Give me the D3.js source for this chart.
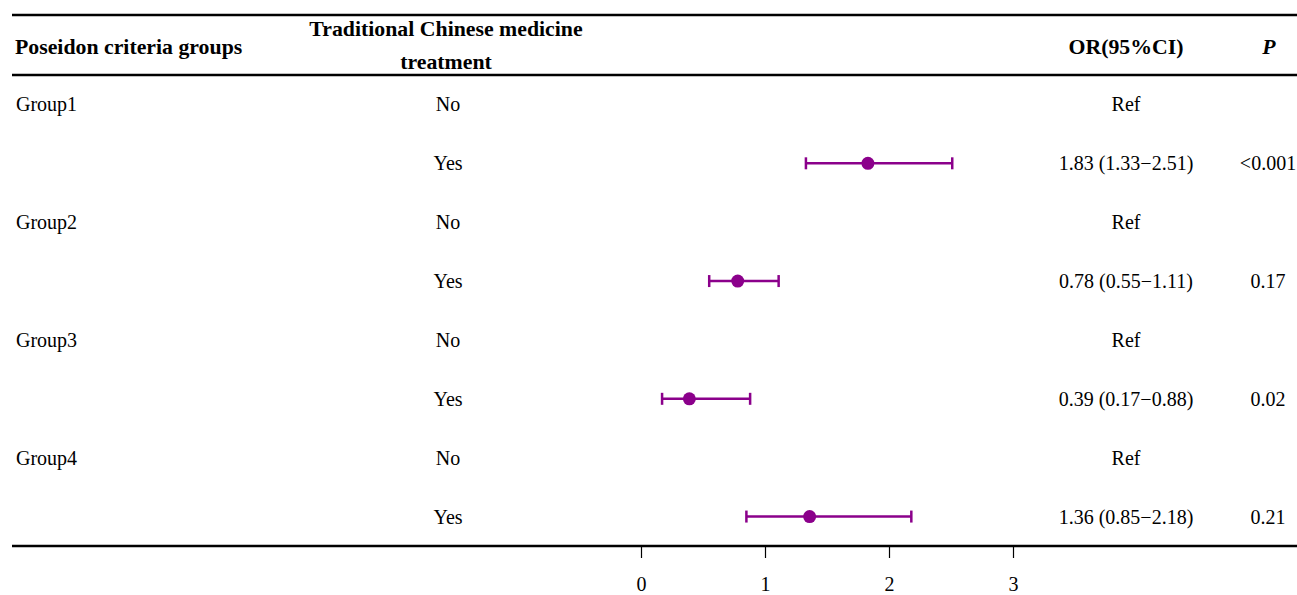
<!DOCTYPE html>
<html>
<head>
<meta charset="utf-8">
<script src="https://cdnjs.cloudflare.com/ajax/libs/d3/7.8.5/d3.min.js"></script>
<style>
  body { margin: 0; background: #fff; }
  svg text { font-family: "Liberation Serif", "Times New Roman", serif; font-size: 20px; fill: #000; }
  svg text.head { font-size: 21.8px; font-weight: bold; }
</style>
</head>
<body>
<div id="chart"></div>
<script>
// data
const groups = ['Group1', 'Group1', 'Group2', 'Group2', 'Group3', 'Group3', 'Group4', 'Group4'];
const treatment = ['No', 'Yes', 'No', 'Yes', 'No', 'Yes', 'No', 'Yes'];
const orValues = [null, 1.83, null, 0.78, null, 0.39, null, 1.36];
const lower = [null, 1.33, null, 0.55, null, 0.17, null, 0.85];
const upper = [null, 2.51, null, 1.11, null, 0.88, null, 2.18];
const orLabels = ['Ref', '1.83 (1.33\u22122.51)', 'Ref', '0.78 (0.55\u22121.11)', 'Ref', '0.39 (0.17\u22120.88)', 'Ref', '1.36 (0.85\u22122.18)'];
const pLabels = ['', '<0.001', '', '0.17', '', '0.02', '', '0.21'];
const xTicks = [0, 1, 2, 3];

const width = 1297, height = 595;
const purple = '#8b008b';

const svg = d3.select('#chart').append('svg')
  .attr('width', width)
  .attr('height', height);

const x = d3.scaleLinear().domain([0, 3]).range([641, 1013]);
const y = d3.scaleBand().domain(d3.range(groups.length)).range([75, 546]);

// table rules
const rules = [15, 75, 546];
svg.selectAll('line.rule')
  .data(rules)
  .join('line')
  .attr('class', 'rule')
  .attr('x1', 12).attr('x2', width)
  .attr('y1', d => d).attr('y2', d => d)
  .attr('stroke', '#000')
  .attr('stroke-width', 2.5);

// header
const head = svg.append('g');
head.append('text').attr('class', 'head').attr('x', 15).attr('y', 54).text('Poseidon criteria groups');
head.append('text').attr('class', 'head').attr('x', 446).attr('y', 36).attr('text-anchor', 'middle').text('Traditional Chinese medicine');
head.append('text').attr('class', 'head').attr('x', 446).attr('y', 69).attr('text-anchor', 'middle').text('treatment');
head.append('text').attr('class', 'head').attr('x', 1126).attr('y', 54).attr('text-anchor', 'middle').text('OR(95%CI)');
head.append('text').attr('class', 'head').attr('x', 1269).attr('y', 54).attr('text-anchor', 'middle').style('font-style', 'italic').text('P');

// rows
const rows = svg.selectAll('g.row')
  .data(d3.range(groups.length))
  .join('g')
  .attr('class', 'row')
  .attr('transform', i => `translate(0,${y(i) + y.bandwidth() / 2})`);

rows.append('text')
  .attr('x', 16).attr('dy', 7)
  .text(i => treatment[i] === 'No' ? groups[i] : '');

rows.append('text')
  .attr('x', 448).attr('dy', 7)
  .attr('text-anchor', 'middle')
  .text(i => treatment[i]);

rows.append('text')
  .attr('x', 1126).attr('dy', 7)
  .attr('text-anchor', 'middle')
  .text(i => orLabels[i]);

rows.append('text')
  .attr('x', 1268).attr('dy', 7)
  .attr('text-anchor', 'middle')
  .text(i => pLabels[i]);

// error bars
const est = rows.filter(i => orValues[i] != null);
est.append('line')
  .attr('x1', i => x(lower[i])).attr('x2', i => x(upper[i]))
  .attr('stroke', purple).attr('stroke-width', 2.5);
est.append('line')
  .attr('x1', i => x(lower[i])).attr('x2', i => x(lower[i]))
  .attr('y1', -6).attr('y2', 6)
  .attr('stroke', purple).attr('stroke-width', 2.5);
est.append('line')
  .attr('x1', i => x(upper[i])).attr('x2', i => x(upper[i]))
  .attr('y1', -6).attr('y2', 6)
  .attr('stroke', purple).attr('stroke-width', 2.5);
est.append('circle')
  .attr('cx', i => x(orValues[i]))
  .attr('r', 6.5)
  .attr('fill', purple);

// x axis
const axis = svg.append('g')
  .attr('transform', 'translate(0,547)')
  .call(d3.axisBottom(x).tickValues(xTicks).tickSize(11).tickPadding(19).tickFormat(d3.format('d')));
axis.select('.domain').remove();
axis.selectAll('.tick line').attr('stroke', '#000').attr('stroke-width', 1.2);
axis.selectAll('.tick text').style('font-size', '20px').style('font-family', '"Liberation Serif", serif');
</script>
</body>
</html>
